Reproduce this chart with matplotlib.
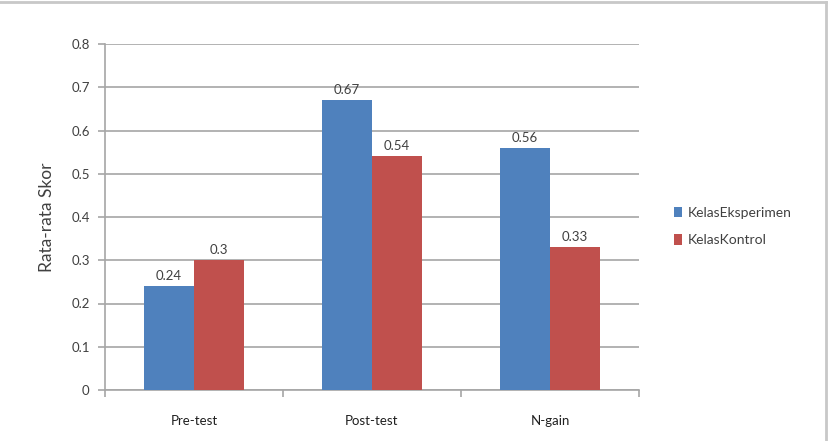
import matplotlib
matplotlib.use("Agg")
import matplotlib.pyplot as plt
from matplotlib.lines import Line2D
import numpy as np

categories = ["Pre-test", "Post-test", "N-gain"]
series_names = ["KelasEksperimen", "KelasKontrol"]
eksperimen = [0.24, 0.67, 0.56]
kontrol = [0.30, 0.54, 0.33]
eksperimen_labels = ["0.24", "0.67", "0.56"]
kontrol_labels = ["0.3", "0.54", "0.33"]
yticks = [0, 0.1, 0.2, 0.3, 0.4, 0.5, 0.6, 0.7, 0.8]
ytick_labels = ["0", "0.1", "0.2", "0.3", "0.4", "0.5", "0.6", "0.7", "0.8"]

plt.rcParams['font.family'] = ['Lato', 'DejaVu Sans']

fig = plt.figure(figsize=(8.34, 4.41), dpi=100)
ax = fig.add_axes([105/834, 1-390/441, (639-105)/834, (390-44)/441])

blue = "#4F81BD"
red = "#C0504D"
grid_c = "#A6A6A6"
txt_c = "#404040"

x = np.arange(len(categories))
w = 0.28
b1 = ax.bar(x - w/2, eksperimen, w, color=blue, zorder=3, label=series_names[0])
b2 = ax.bar(x + w/2, kontrol, w, color=red, zorder=3, label=series_names[1])

for rect, lab in zip(b1, eksperimen_labels):
    ax.annotate(lab, (rect.get_x() + rect.get_width()/2, rect.get_height()),
                xytext=(0, 3), textcoords="offset points", ha="center", va="bottom",
                fontsize=9.5, color=txt_c)
for rect, lab in zip(b2, kontrol_labels):
    ax.annotate(lab, (rect.get_x() + rect.get_width()/2, rect.get_height()),
                xytext=(0, 3), textcoords="offset points", ha="center", va="bottom",
                fontsize=9.5, color=txt_c)

ax.set_xlim(-0.5, 2.5)
ax.set_ylim(0, 0.8)
ax.set_yticks(yticks)
ax.set_yticklabels(ytick_labels, fontsize=9.5, color=txt_c)
ax.set_xticks(x)
ax.set_xticklabels(categories, fontsize=9.5, color="#202020")
ax.set_xticks([-0.5, 0.5, 1.5, 2.5], minor=True)
ax.tick_params(axis="x", which="major", length=0, pad=18)
ax.tick_params(axis="x", which="minor", length=5, color=grid_c, width=1.2)
ax.tick_params(axis="y", length=5, color=grid_c, width=1.2, pad=6)

ax.yaxis.grid(True, color=grid_c, linewidth=1.2, zorder=0)
ax.set_axisbelow(True)
for s in ["top", "right"]:
    ax.spines[s].set_visible(False)
for s in ["left", "bottom"]:
    ax.spines[s].set_color(grid_c)
    ax.spines[s].set_linewidth(1.2)

ax.set_ylabel("Rata-rata Skor", fontsize=12.5, color=txt_c, labelpad=12)

# legend
leg = ax.legend(loc="upper left", bbox_to_anchor=(661/834, 1-194/441),
                bbox_transform=fig.transFigure, frameon=False, fontsize=10,
                handlelength=0.6, handleheight=0.8, handletextpad=0.4,
                labelspacing=1.1, labelcolor=txt_c)

# outer frame (top and right edges)
fig.add_artist(Line2D([0, 826/834], [1-2/441, 1-2/441], transform=fig.transFigure,
                      color="#C8C8C8", linewidth=2))
fig.add_artist(Line2D([826/834, 826/834], [0, 1-2/441], transform=fig.transFigure,
                      color="#C8C8C8", linewidth=2))

fig.savefig("out.png", dpi=100)
